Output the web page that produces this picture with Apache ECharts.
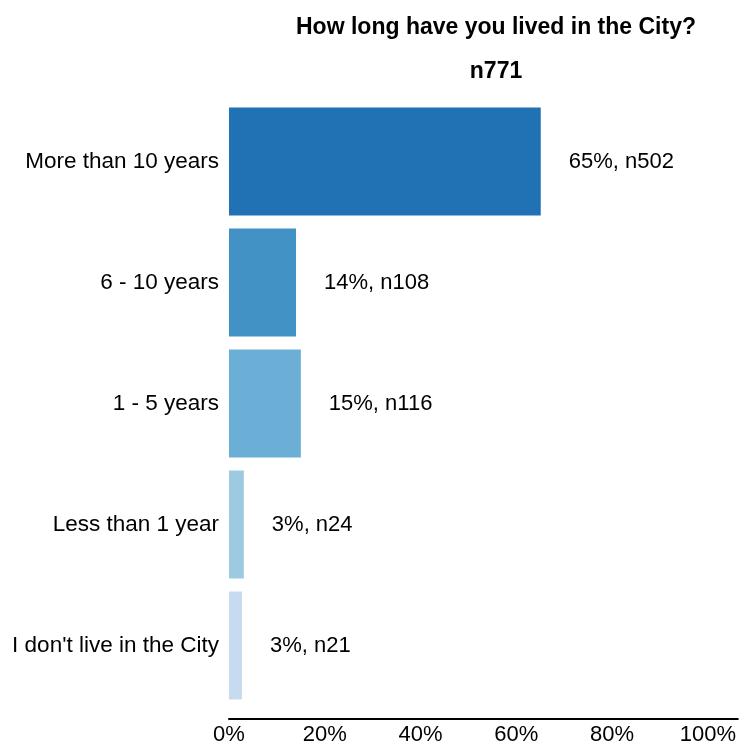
<!DOCTYPE html>
<html>
<head>
<meta charset="utf-8">
<script src="https://cdn.jsdelivr.net/npm/echarts@6/dist/echarts.min.js"></script>
<style>html,body{margin:0;padding:0;background:#fff}#c{width:739px;height:749px}</style>
</head>
<body>
<div id="c"></div>
<script>
const categories = ["More than 10 years", "6 - 10 years", "1 - 5 years", "Less than 1 year", "I don't live in the City"];
const percentValues = [65.1, 14.0, 15.0, 3.1, 2.7];
const percentLabels = ["65%", "14%", "15%", "3%", "3%"];
const counts = [502, 108, 116, 24, 21];
const barColors = ["#2171b5", "#4292c6", "#6baed6", "#9ecae1", "#c6dbef"];
const xTicks = [0, 20, 40, 60, 80, 100];
const titleText = "How long have you lived in the City?";
const subtitleText = "n771";

const chart = echarts.init(document.getElementById('c'), null, {renderer: 'canvas'});
const font = "'Liberation Sans', Arial, Helvetica, sans-serif";
chart.setOption({
  animation: false,
  backgroundColor: '#fff',
  title: [
    {text: titleText, left: 491, top: 11, textAlign: 'center',
     textStyle: {fontFamily: font, fontSize: 23, fontWeight: 'bold', color: '#000'}},
    {text: subtitleText, left: 491, top: 55, textAlign: 'center',
     textStyle: {fontFamily: font, fontSize: 23, fontWeight: 'bold', color: '#000'}}
  ],
  grid: {left: 229, right: 0, top: 101, bottom: 43, containLabel: false},
  xAxis: {
    type: 'value', min: 0, max: 106.25, interval: 20,
    offset: 13,
    axisLine: {show: true, lineStyle: {color: '#000', width: 2}},
    axisTick: {show: false},
    splitLine: {show: false},
    axisLabel: {
      fontFamily: font, fontSize: 22, color: '#000', margin: 5,
      showMaxLabel: false,
      formatter: v => xTicks.indexOf(v) >= 0 ? v + '%' : ''
    }
  },
  yAxis: {
    type: 'category', data: categories, inverse: true,
    axisLine: {show: false}, axisTick: {show: false},
    axisLabel: {fontFamily: font, fontSize: 22.5, color: '#000', margin: 10}
  },
  series: [{
    type: 'bar',
    barCategoryGap: '10.7%',
    data: percentValues.map((v, i) => ({value: v, itemStyle: {color: barColors[i]}})),
    label: {
      show: true, position: 'right', distance: 28,
      fontFamily: font, fontSize: 22, color: '#000',
      formatter: p => percentLabels[p.dataIndex] + ', n' + counts[p.dataIndex]
    }
  }]
});
</script>
</body>
</html>
